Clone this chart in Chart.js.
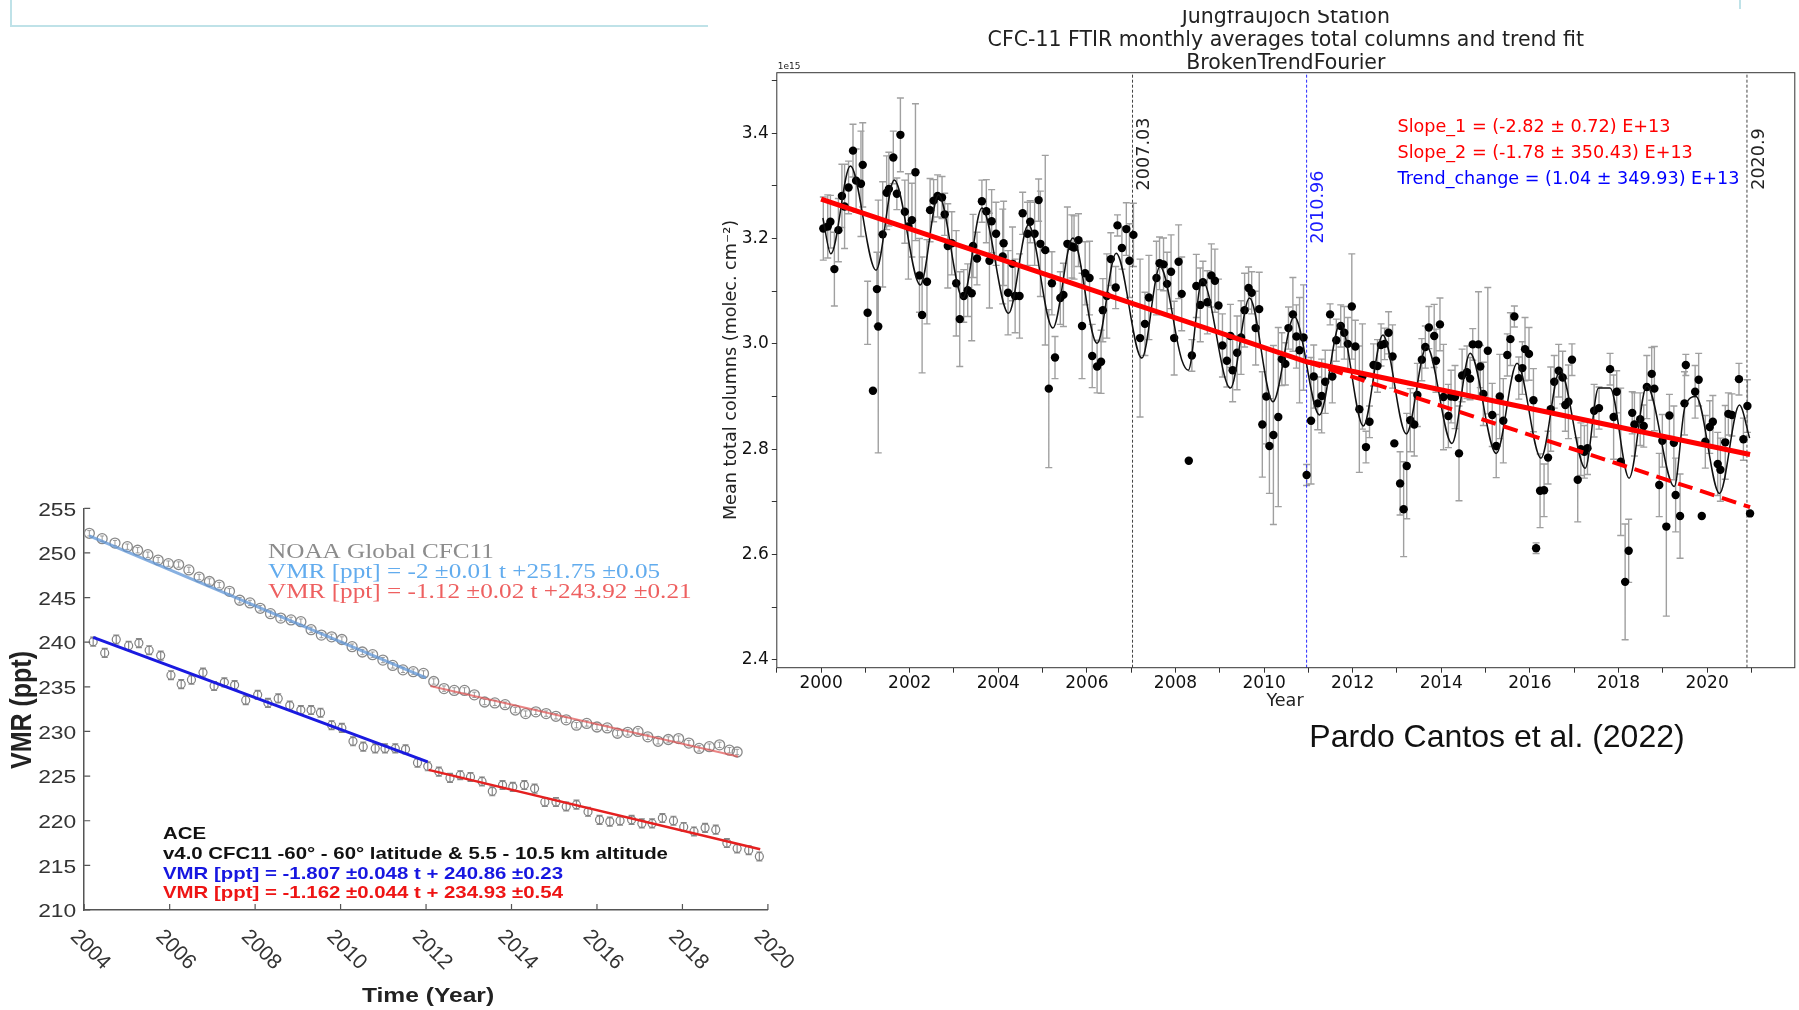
<!DOCTYPE html>
<html>
<head>
<meta charset="utf-8">
<script src="https://cdn.jsdelivr.net/npm/chart.js@4.4.0/dist/chart.umd.min.js"></script>
<style>
  body { margin: 0; background: #fff; width: 1799px; height: 1010px; position: relative; overflow: hidden; }
  canvas { position: absolute; }
  #leftChart { left: 0; top: 480px; }
  #rightChart { left: 640px; top: 0; }
  .deco { position: absolute; background: #bfe2e8; }
</style>
</head>
<body>
<div class="deco" style="left:10px;top:0;width:2px;height:27px"></div>
<div class="deco" style="left:10px;top:25px;width:698px;height:2px"></div>
<div class="deco" style="left:1739px;top:0;width:2px;height:9px"></div>
<canvas id="leftChart" width="800" height="530"></canvas>
<canvas id="rightChart" width="1159" height="760"></canvas>
<script>
// ---- left panel: NOAA global + ACE CFC-11 VMR ----
const noaaYears = [2004.12,2004.42,2004.72,2005.01,2005.25,2005.49,2005.73,2005.97,2006.21,2006.45,2006.69,2006.93,
  2007.16,2007.40,2007.64,2007.88,2008.12,2008.36,2008.60,2008.84,2009.07,2009.31,2009.55,2009.79,2010.03,2010.27,
  2010.51,2010.75,2010.99,2011.22,2011.46,2011.70,2011.94,2012.18,2012.42,2012.66,2012.90,2013.13,2013.37,2013.61,
  2013.85,2014.09,2014.33,2014.57,2014.81,2015.04,2015.28,2015.52,2015.76,2016.00,2016.24,2016.48,2016.72,2016.96,
  2017.19,2017.43,2017.67,2017.91,2018.15,2018.39,2018.63,2018.87,2019.10,2019.28];
const noaaVmr = [252.2,251.6,251.1,250.7,250.3,249.8,249.2,248.8,248.7,248.1,247.3,246.8,
  246.4,245.7,244.7,244.4,243.8,243.2,242.7,242.5,242.3,241.4,240.8,240.6,240.3,239.5,
  238.9,238.6,238.0,237.4,236.9,236.7,236.5,235.6,234.8,234.6,234.6,234.1,233.3,233.2,
  233.0,232.4,232.0,232.2,232.0,231.7,231.3,230.7,230.9,230.5,230.4,229.8,229.9,230.0,
  229.4,228.9,229.1,229.2,228.7,228.1,228.3,228.5,227.9,227.7];
const noaaErr = 0.3;
const noaaFit1 = [[2004.12, 251.9], [2012.0, 236.0]];
const noaaFit2 = [[2012.1, 235.1], [2019.3, 227.2]];

const aceYears = [2004.21,2004.48,2004.75, 2005.04,2005.28,2005.52,2005.79, 2006.03,2006.27,2006.51,2006.78,
  2007.04,2007.28,2007.52,2007.78, 2008.06,2008.30,2008.54,2008.81, 2009.07,2009.31,2009.53,2009.79,
  2010.03,2010.29,2010.53,2010.81, 2011.04,2011.28,2011.52,2011.80, 2012.04,2012.30,2012.56,2012.80,
  2013.04,2013.31,2013.55,2013.79, 2014.03,2014.30,2014.54,2014.78, 2015.04,2015.28,2015.52,2015.79,
  2016.06,2016.30,2016.54,2016.81, 2017.05,2017.29,2017.53,2017.79, 2018.03,2018.27,2018.53,2018.78,
  2019.04,2019.28,2019.55,2019.80];
const aceVmr = [240.06,238.8,240.3, 239.6,239.9,239.1,238.5, 236.3,235.3,235.8,236.6,
  235.1,235.5,235.2,233.5, 234.1,233.2,233.7,232.9, 232.4,232.4,232.1,230.7,
  230.4,228.9,228.3,228.1, 228.1,228.1,228.0,226.5, 226.1,225.5,224.8,225.1,
  224.9,224.4,223.3,224.0, 223.8,224.0,223.6,222.1, 222.1,221.6,221.8,221.0,
  220.1,219.9,220.0,220.1, 219.7,219.7,220.3,220.0, 219.3,218.8,219.2,219.0,
  217.5,216.9,216.7,216.0];
const aceErr = 0.5;
const aceFit1 = [[2004.21, 240.55], [2012.04, 226.6]];
const aceFit2 = [[2012.06, 225.7], [2019.82, 216.8]];
const leftYearTicks = [2004, 2006, 2008, 2010, 2012, 2014, 2016, 2018, 2020];

// ---- right panel: Jungfraujoch FTIR CFC-11 columns (x1e15) ----
const ftirYears = [
  2000.05,2000.15,2000.21,2000.30,2000.39,2000.47,2000.53,2000.62,2000.72,2000.79,2000.90,2000.94,
  2001.05,2001.17,2001.26,2001.29,2001.39,2001.48,2001.53,2001.63,2001.71,2001.79,2001.89,2001.97,
  2002.05,2002.13,2002.22,2002.28,2002.39,2002.46,2002.54,2002.63,2002.73,2002.79,2002.86,2002.95,
  2003.05,2003.13,2003.22,2003.31,2003.40,2003.43,2003.52,2003.63,2003.73,2003.80,2003.85,2003.95,
  2004.10,2004.12,2004.22,2004.32,2004.38,2004.48,2004.55,2004.66,2004.72,2004.82,2004.91,2004.95,
  2005.06,2005.14,2005.21,2005.28,2005.40,2005.47,2005.56,2005.66,2005.71,2005.81,2005.89,2005.96,
  2006.06,2006.12,2006.23,2006.32,2006.36,2006.45,2006.54,2006.65,2006.69,2006.79,2006.89,2006.96,
  2007.05,2007.20,2007.31,2007.40,2007.57,2007.64,2007.73,2007.81,2007.90,2007.97,
  2008.07,2008.14,2008.30,2008.37,2008.47,2008.56,2008.62,2008.72,2008.81,2008.89,2008.97,
  2009.06,2009.16,2009.24,2009.29,2009.39,2009.48,2009.56,2009.65,2009.72,2009.81,2009.89,2009.96,
  2010.05,2010.12,2010.21,2010.32,2010.40,2010.48,2010.55,2010.65,2010.73,2010.80,2010.89,2010.96,
  2011.06,2011.12,2011.21,2011.30,2011.38,2011.49,2011.54,2011.63,2011.73,2011.81,2011.89,2011.98,
  2012.06,2012.15,2012.22,2012.30,2012.38,2012.47,2012.56,2012.64,2012.72,2012.81,2012.90,2012.94,
  2013.07,2013.15,2013.22,2013.30,2013.39,2013.46,2013.56,2013.64,2013.72,2013.84,2013.88,2013.97,
  2014.05,2014.16,2014.22,2014.31,2014.40,2014.47,2014.58,2014.65,2014.71,2014.84,2014.88,2014.95,
  2015.05,2015.15,2015.24,2015.32,2015.40,2015.49,2015.56,2015.65,2015.75,2015.83,2015.89,2015.98,
  2016.08,2016.14,2016.23,2016.32,2016.41,2016.47,2016.55,2016.65,2016.74,2016.80,2016.87,2016.95,
  2017.08,2017.15,2017.23,2017.30,2017.45,2017.56,2017.81,2017.89,2017.96,
  2018.05,2018.15,2018.23,2018.31,2018.36,2018.49,2018.57,2018.64,2018.75,2018.81,2018.92,2018.99,
  2019.08,2019.15,2019.25,2019.29,2019.39,2019.49,2019.52,2019.73,2019.81,2019.88,2019.96,
  2020.06,2020.13,2020.24,2020.30,2020.41,2020.48,2020.56,2020.72,2020.82,2020.91,2020.97];
const ftirCols = [
  3.219,3.223,3.232,3.142,3.216,3.281,3.261,3.297,3.367,3.310,3.304,3.340,
  3.059,2.911,3.104,3.033,3.208,3.287,3.294,3.354,3.285,3.397,3.251,3.223,
  3.235,3.326,3.130,3.055,3.118,3.254,3.272,3.281,3.278,3.246,3.186,3.191,
  3.115,3.047,3.091,3.102,3.096,3.186,3.162,3.271,3.252,3.158,3.233,3.209,
  3.166,3.191,3.097,3.152,3.091,3.091,3.248,3.209,3.232,3.209,3.273,3.190,
  3.178,2.915,3.115,2.974,3.087,3.093,3.190,3.185,3.183,3.197,3.034,3.134,
  3.125,2.977,2.957,2.966,3.064,3.091,3.161,3.107,3.225,3.182,3.218,3.158,
  3.207,3.011,3.038,3.088,3.125,3.153,3.151,3.114,3.137,3.011,
  3.156,3.095,2.778,2.978,3.110,3.074,3.117,3.079,3.130,3.120,3.073,
  2.997,2.968,3.015,2.950,2.983,3.012,3.064,3.106,3.097,3.030,3.066,2.847,
  2.900,2.806,2.827,2.861,2.971,2.962,3.030,3.056,3.014,2.988,3.012,2.751,
  2.854,2.938,2.887,2.901,2.928,3.056,2.938,3.007,3.034,3.021,3.000,3.071,
  2.995,2.876,2.938,2.804,2.852,2.960,2.958,2.998,3.000,3.021,2.976,2.811,
  2.735,2.686,2.768,2.855,2.847,2.903,2.970,2.994,3.031,3.015,2.968,3.037,
  2.899,2.863,2.900,2.899,2.792,2.940,2.946,2.934,2.999,2.999,2.957,2.905,
  2.987,2.865,2.806,2.900,2.854,2.979,3.009,3.052,2.935,2.954,2.990,2.981,
  2.893,2.612,2.721,2.722,2.784,2.876,2.928,2.949,2.936,2.884,2.890,2.970,
  2.742,2.800,2.795,2.802,2.873,2.878,2.952,2.861,2.909,
  2.776,2.548,2.607,2.869,2.847,2.857,2.844,2.918,2.943,2.915,2.732,2.816,
  2.653,2.864,2.812,2.713,2.673,2.887,2.960,2.909,2.932,2.673,2.814,
  2.842,2.852,2.772,2.761,2.813,2.867,2.865,2.933,2.819,2.882,2.678];
const ftirErrs = [
  0.06,0.06,0.05,0.07,0.06,0.06,0.08,0.05,0.05,0.06,0.10,0.08,
  0.06,0,0.07,0.24,0.10,0.07,0.07,0.05,0.03,0.07,0.06,0.10,
  0.07,0.13,0.07,0.11,0.08,0.06,0.04,0.04,0.04,0.04,0.08,0.06,
  0.10,0.09,0.05,0.05,0.09,0.06,0.05,0.04,0.06,0.09,0.06,0.06,
  0.09,0.08,0.08,0.07,0.07,0.08,0.04,0.06,0.04,0.06,0.04,0.10,
  0.18,0.15,0.06,0.04,0.05,0.06,0.07,0.06,0.06,0.05,0.10,0.06,
  0.07,0.06,0.05,0.06,0.06,0.08,0.05,0.04,0.02,0.04,0.05,0.07,
  0.06,0.15,0.06,0.08,0.07,0.05,0.05,0.06,0.07,0.07,
  0.07,0.07,0,0.03,0.06,0.07,0.04,0.06,0.06,0.06,0.05,
  0.06,0.05,0.06,0.06,0.07,0.07,0.07,0.04,0.04,0.07,0.07,0.10,
  0.09,0.09,0.17,0.17,0.05,0.04,0.04,0.07,0.06,0.10,0.10,0.02,
  0.12,0.06,0.05,0.07,0.06,0.02,0.05,0.04,0.04,0.05,0.05,0.10,
  0.05,0.12,0.10,0.03,0.03,0.04,0.05,0.04,0.03,0.04,0.06,0,
  0.06,0.09,0.10,0.06,0.06,0.06,0.04,0.04,0.04,0.06,0.06,0.05,
  0.10,0.06,0.05,0.06,0.09,0.05,0.05,0.04,0.03,0.10,0.04,0.06,
  0.12,0.06,0.06,0.08,0.08,0.04,0.05,0.02,0.04,0.05,0.06,0.05,
  0.06,0.01,0.07,0.05,0.05,0.08,0.05,0.05,0.05,0.05,0.07,0.03,
  0.08,0.05,0.05,0.05,0.05,0.04,0.03,0.08,0.04,
  0.14,0.11,0.06,0.04,0.06,0.05,0.04,0.06,0.05,0.08,0.06,0.05,
  0.17,0.04,0.07,0.07,0.08,0.06,0.02,0.05,0.05,0,0.05,
  0.05,0.05,0.06,0.06,0.07,0.04,0.04,0.03,0.04,0.05,0];

// Fourier fit, read at its turning points
const fourierYears = [2000.04,2000.22,2000.66,2001.24,2001.65,2002.24,2002.65,2003.20,2003.63,2004.23,2004.68,
  2005.23,2005.68,2006.23,2006.66,2007.24,2007.65,2008.14,2008.29,2008.60,2009.24,2009.67,2010.20,2010.68,
  2011.25,2011.72,2012.24,2012.68,2013.21,2013.67,2014.24,2014.65,2015.24,2015.71,2016.25,2016.68,2017.25,
  2017.55,2017.81,2018.24,2018.64,2019.26,2019.50,2019.75,2020.28,2020.73,2020.96];
const fourierCols = [3.239,3.171,3.338,3.140,3.311,3.112,3.283,3.087,3.258,3.058,3.226,
  3.030,3.201,3.001,3.172,2.973,3.147,2.970,2.950,3.121,2.916,3.087,2.890,3.052,
  2.865,3.039,2.844,3.017,2.829,2.995,2.811,2.982,2.792,2.963,2.783,2.950,2.764,
  2.916,2.916,2.745,2.920,2.729,2.880,2.900,2.716,2.884,2.821];

const trendYears = [2000.0, 2010.96, 2020.97];
const trendCols = [3.275, 2.966, 2.790];
const trendExtCols = [2.966, 2.690];   // dashed continuation of slope 1 after the break
const breakYears = [2007.03, 2010.96, 2020.9];

const pts = (xs, ys) => xs.map((x, i) => ({ x: x, y: ys[i] }));
const seg = (pairs) => pairs.map(p => ({ x: p[0], y: p[1] }));

const errorBars = {
  id: "errorBars",
  beforeDatasetsDraw(chart) {
    const ctx = chart.ctx, xs = chart.scales.x, ys = chart.scales.y;
    chart.data.datasets.forEach(ds => {
      if (ds.errs === undefined) return;
      ctx.save();
      ctx.strokeStyle = ds.errColor;
      ctx.lineWidth = ds.errWidth;
      ctx.beginPath();
      ds.data.forEach((p, i) => {
        const e = Array.isArray(ds.errs) ? ds.errs[i] : ds.errs;
        if (!e) return;
        const x = xs.getPixelForValue(p.x);
        const y1 = ys.getPixelForValue(p.y - e), y2 = ys.getPixelForValue(p.y + e);
        ctx.moveTo(x, y1); ctx.lineTo(x, y2);
        ctx.moveTo(x - ds.capW, y1); ctx.lineTo(x + ds.capW, y1);
        ctx.moveTo(x - ds.capW, y2); ctx.lineTo(x + ds.capW, y2);
      });
      ctx.stroke();
      ctx.restore();
    });
  }
};

// the left figure is a horizontally stretched bitmap in the original, so its text is stretched too
const SX = 1.2;
function stretchedText(ctx, text, x, y) {
  ctx.save();
  ctx.translate(x, y);
  ctx.scale(SX, 1);
  ctx.fillText(text, 0, 0);
  ctx.restore();
}

const leftDeco = {
  id: "leftDeco",
  afterDraw(chart) {
    const ctx = chart.ctx, a = chart.chartArea, x = chart.scales.x, y = chart.scales.y;
    ctx.save();
    ctx.strokeStyle = "#555";
    ctx.lineWidth = 1.2;
    ctx.beginPath();
    y.ticks.forEach(t => {
      const py = y.getPixelForValue(t.value);
      ctx.moveTo(a.left, py); ctx.lineTo(a.left + 6, py);
    });
    leftYearTicks.forEach(v => {
      const px = x.getPixelForValue(v);
      ctx.moveTo(px, a.bottom); ctx.lineTo(px, a.bottom - 6);
    });
    ctx.stroke();

    ctx.fillStyle = "#333";
    ctx.textBaseline = "middle";
    ctx.textAlign = "right";
    ctx.font = '19px "Liberation Sans"';
    y.ticks.forEach(t => {
      stretchedText(ctx, String(t.value), a.left - 8, y.getPixelForValue(t.value) + 2);
    });

    ctx.textAlign = "center";
    ctx.font = '21px "Liberation Sans"';
    leftYearTicks.forEach(v => {
      ctx.save();
      ctx.translate(x.getPixelForValue(v) + 6, a.bottom + 40);
      ctx.rotate(Math.PI / 4);
      ctx.fillText(String(v), 0, 0);
      ctx.restore();
    });

    ctx.fillStyle = "#222";
    ctx.font = 'bold 20.5px "Liberation Sans"';
    stretchedText(ctx, "Time (Year)", 428, 516);
    ctx.font = 'bold 25px "Liberation Sans"';
    ctx.save();
    ctx.translate(23, 230);
    ctx.scale(SX, 1);
    ctx.rotate(-Math.PI / 2);
    ctx.fillText("VMR (ppt)", 0, 0);
    ctx.restore();

    ctx.textAlign = "left";
    ctx.font = '21px "Liberation Serif"';
    ctx.fillStyle = "#8c8c8c";
    stretchedText(ctx, "NOAA Global CFC11", 268, 72);
    ctx.fillStyle = "#62acee";
    stretchedText(ctx, "VMR [ppt] = -2 \u00b10.01 t +251.75 \u00b10.05", 268, 92);
    ctx.fillStyle = "#ee6060";
    stretchedText(ctx, "VMR [ppt] = -1.12 \u00b10.02 t +243.92 \u00b10.21", 268, 112);

    ctx.font = 'bold 17px "Liberation Sans"';
    ctx.fillStyle = "#111";
    stretchedText(ctx, "ACE", 163, 354);
    stretchedText(ctx, "v4.0 CFC11 -60\u00b0 - 60\u00b0 latitude & 5.5 - 10.5 km altitude", 163, 374);
    ctx.fillStyle = "#1616e0";
    stretchedText(ctx, "VMR [ppt] = -1.807 \u00b10.048 t + 240.86 \u00b10.23", 163, 394);
    ctx.fillStyle = "#ee1414";
    stretchedText(ctx, "VMR [ppt] = -1.162 \u00b10.044 t + 234.93 \u00b10.54", 163, 413);
    ctx.restore();
  }
};

new Chart(document.getElementById("leftChart"), {
  type: "scatter",
  data: {
    datasets: [
      { data: seg(aceFit1), showLine: true, borderColor: "#1a1ae0", borderWidth: 3, pointRadius: 0 },
      { data: seg(aceFit2), showLine: true, borderColor: "#e52020", borderWidth: 2.5, pointRadius: 0 },
      { data: seg(noaaFit1), showLine: true, borderColor: "rgba(95,150,215,0.75)", borderWidth: 3, pointRadius: 0 },
      { data: seg(noaaFit2), showLine: true, borderColor: "rgba(225,80,80,0.7)", borderWidth: 2, pointRadius: 0 },
      { data: pts(aceYears, aceVmr), pointRadius: 4, borderWidth: 1.2, borderColor: "#808080",
        backgroundColor: "rgba(255,255,255,0)", errs: aceErr, errColor: "#8a8a8a", errWidth: 1.2, capW: 3 },
      { data: pts(noaaYears, noaaVmr), pointRadius: 5, borderWidth: 1.3, borderColor: "#8a8a8a",
        backgroundColor: "rgba(255,255,255,0)", errs: noaaErr, errColor: "#999", errWidth: 1, capW: 2 }
    ]
  },
  options: {
    responsive: false,
    animation: false,
    layout: { padding: { top: 28.3, right: 32.1, left: 0, bottom: 0 } },
    plugins: { legend: { display: false }, tooltip: { enabled: false } },
    scales: {
      x: {
        type: "linear", min: 2004, max: 2020,
        ticks: { display: false },
        grid: { display: false, drawTicks: false },
        border: { color: "#555", width: 1.5 },
        afterFit: s => { s.height = 100; }
      },
      y: {
        min: 210, max: 255,
        ticks: { stepSize: 5, display: false },
        grid: { display: false, drawTicks: false },
        border: { color: "#555", width: 1.5 },
        afterFit: s => { s.width = 84.2; }
      }
    }
  },
  plugins: [errorBars, leftDeco]
});

const rightDeco = {
  id: "rightDeco",
  afterDraw(chart) {
    const ctx = chart.ctx, a = chart.chartArea, x = chart.scales.x;
    ctx.save();
    ctx.strokeStyle = "#333";
    ctx.lineWidth = 1;
    ctx.strokeRect(a.left, a.top, a.right - a.left, a.bottom - a.top);

    const cx = (a.left + a.right) / 2;
    ctx.fillStyle = "#222";
    ctx.textAlign = "center";
    ctx.textBaseline = "middle";
    ctx.font = '20.5px "DejaVu Sans"';
    ctx.fillText("Jungfraujoch Station", cx, 17.5);
    ctx.fillText("CFC-11 FTIR monthly averages total columns and trend fit", cx, 40.5);
    ctx.fillText("BrokenTrendFourier", cx, 63.5);
    ctx.clearRect(a.left, 0, a.right - a.left, 10);

    ctx.font = '17.6px "DejaVu Sans"';
    ctx.fillText("Year", 645, 701);
    ctx.save();
    ctx.translate(91, 370);
    ctx.rotate(-Math.PI / 2);
    ctx.fillText("Mean total columns (molec. cm\u207b\u00b2)", 0, 0);
    ctx.restore();

    const vlab = [["2007.03", "#222", 154], ["2010.96", "#1a1aff", 207], ["2020.9", "#222", 159]];
    breakYears.forEach((yr, i) => {
      ctx.save();
      ctx.translate(x.getPixelForValue(yr) + 12, vlab[i][2]);
      ctx.rotate(-Math.PI / 2);
      ctx.fillStyle = vlab[i][1];
      ctx.fillText(vlab[i][0], 0, 0);
      ctx.restore();
    });

    ctx.textAlign = "left";
    ctx.fillStyle = "#ff0000";
    ctx.fillText("Slope_1 = (-2.82 \u00b1 0.72) E+13", 757.5, 127);
    ctx.fillText("Slope_2 = (-1.78 \u00b1 350.43) E+13", 757.5, 153);
    ctx.fillStyle = "#0000ff";
    ctx.fillText("Trend_change = (1.04 \u00b1 349.93) E+13", 757.5, 179);

    ctx.fillStyle = "#222";
    ctx.font = '9px "DejaVu Sans"';
    ctx.textBaseline = "bottom";
    ctx.fillText("1e15", a.left + 1, a.top - 2);

    ctx.fillStyle = "#111";
    ctx.textAlign = "center";
    ctx.textBaseline = "middle";
    ctx.font = '32px "Liberation Sans"';
    ctx.fillText("Pardo Cantos et al. (2022)", 857, 738);
    ctx.restore();
  }
};

const vLine = (yr, color) => ({
  data: [{ x: yr, y: 2.385 }, { x: yr, y: 3.515 }],
  showLine: true, borderColor: color, borderWidth: 1, borderDash: [3, 2], pointRadius: 0
});

new Chart(document.getElementById("rightChart"), {
  type: "scatter",
  data: {
    datasets: [
      { data: [{ x: trendYears[0], y: trendCols[0] }, { x: trendYears[1], y: trendCols[1] }, { x: trendYears[2], y: trendCols[2] }],
        showLine: true, borderColor: "#ff0000", borderWidth: 5, pointRadius: 0 },
      { data: [{ x: trendYears[1], y: trendExtCols[0] }, { x: trendYears[2], y: trendExtCols[1] }],
        showLine: true, borderColor: "#ff0000", borderWidth: 4, borderDash: [15, 8], pointRadius: 0 },
      { data: pts(fourierYears, fourierCols), showLine: true, borderColor: "#111", borderWidth: 1.5,
        cubicInterpolationMode: "monotone", pointRadius: 0 },
      { data: pts(ftirYears, ftirCols), pointRadius: 4.2, borderWidth: 0, backgroundColor: "#000",
        errs: ftirErrs, errColor: "#a0a0a0", errWidth: 1.4, capW: 3.5 },
      vLine(breakYears[0], "#444"),
      vLine(breakYears[1], "#2a2aff"),
      vLine(breakYears[2], "#444")
    ]
  },
  options: {
    responsive: false,
    animation: false,
    layout: { padding: { top: 72.7, right: 3.8, left: 0, bottom: 0 } },
    plugins: { legend: { display: false }, tooltip: { enabled: false } },
    scales: {
      x: {
        type: "linear", min: 1999, max: 2021.98,
        afterBuildTicks: s => {
          s.ticks = s.ticks.filter(t => Math.abs(t.value - Math.round(t.value)) < 1e-6 && t.value >= s.min && t.value <= s.max);
        },
        ticks: {
          stepSize: 1, includeBounds: false, autoSkip: false, maxRotation: 0, padding: 1, color: "#111",
          font: { family: "DejaVu Sans", size: 17 },
          callback: v => (Math.round(v) % 2 === 0 ? String(Math.round(v)) : "")
        },
        grid: { display: true, drawOnChartArea: false, drawTicks: true, tickLength: 5, color: "#333" },
        border: { display: false },
        afterFit: s => { s.height = 92.3; }
      },
      y: {
        min: 2.385, max: 3.515,
        afterBuildTicks: s => {
          s.ticks = s.ticks.filter(t => Math.abs(t.value * 10 - Math.round(t.value * 10)) < 1e-6 && t.value >= s.min && t.value <= s.max);
        },
        ticks: {
          stepSize: 0.1, includeBounds: false, padding: 3, color: "#111",
          font: { family: "DejaVu Sans", size: 17 },
          callback: v => (Math.round(v * 10) % 2 === 0 ? v.toFixed(1) : "")
        },
        grid: { display: true, drawOnChartArea: false, drawTicks: true, tickLength: 5, color: "#333" },
        border: { display: false },
        afterFit: s => { s.width = 136.8; }
      }
    }
  },
  plugins: [errorBars, rightDeco]
});
</script>
</body>
</html>
